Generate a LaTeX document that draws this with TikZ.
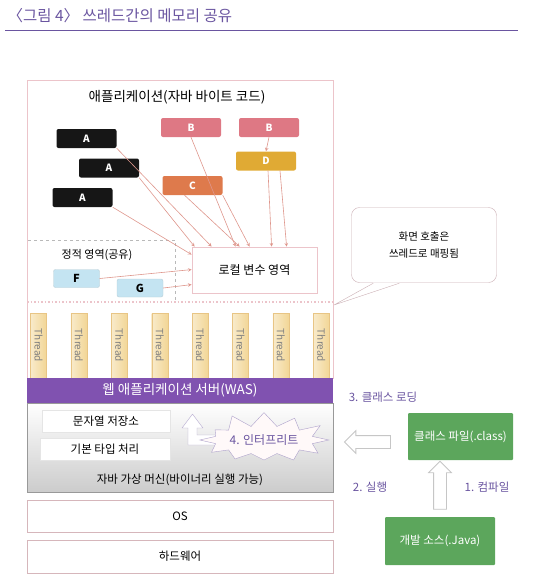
\documentclass[tikz,border=0pt]{standalone}
\usepackage{fontspec}
\setmainfont{Noto Sans CJK KR}
\usepackage{xcolor}
\usepackage{tikz}
\usetikzlibrary{shapes.geometric, shapes.symbols, shapes.arrows, arrows, positioning, calc}
\definecolor{titlepurple}{RGB}{106, 85, 160}
\definecolor{waspurple}{RGB}{128, 82, 176}
\definecolor{edgepink}{RGB}{236, 196, 202}
\definecolor{linkpink}{RGB}{222, 150, 140}
\definecolor{codeblack}{RGB}{22, 22, 22}
\definecolor{codepink}{RGB}{222, 120, 132}
\definecolor{codeorange}{RGB}{222, 122, 76}
\definecolor{codegold}{RGB}{224, 170, 52}
\definecolor{staticblue}{RGB}{196, 228, 242}
\definecolor{threadyel}{RGB}{242, 214, 150}
\definecolor{filegreen}{RGB}{92, 166, 92}

\begin{document}
\begin{tikzpicture}[x=1pt, y=-1pt,
    codebox/.style={rectangle, rounded corners=2pt, fill=#1, text=white, minimum width=60pt, minimum height=19pt, inner sep=0pt, font=\fontsize{10}{11}\selectfont\bfseries},
    staticbox/.style={rectangle, rounded corners=2pt, draw=cyan!30!gray!50, fill=staticblue, minimum width=46pt, minimum height=18pt, inner sep=0pt, font=\fontsize{11}{12}\selectfont\bfseries},
    layer/.style={rectangle, draw=edgepink!80!gray, line width=0.8pt, fill=white, minimum width=306pt, inner sep=0pt, font=\fontsize{11.5}{13}\selectfont},
    jvmbox/.style={rectangle, draw=white!80!gray, fill=white, minimum height=22pt, inner sep=0pt, font=\fontsize{11.5}{13}\selectfont},
    threadbox/.style={rectangle, draw=threadyel!80!brown, left color=threadyel!50, right color=threadyel, rotate=-90, minimum width=65pt, minimum height=16pt, inner sep=0pt, text=gray, font=\fontsize{10}{11}\selectfont},
    filebox/.style={rectangle, rounded corners=1pt, fill=filegreen, text=white, inner sep=0pt, font=\fontsize{11.5}{13}\selectfont},
    steplabel/.style={text=titlepurple, font=\fontsize{11.5}{13}\selectfont},
    hollow/.style={single arrow, draw=gray!45, fill=white, line width=0.8pt, inner sep=6pt, single arrow head extend=5pt, single arrow head indent=0pt},
    flow/.style={->, >=stealth, draw=linkpink, line width=0.6pt}
]
    \useasboundingbox (0,0) rectangle (533,584);

    % Title
    \node[anchor=west, text=titlepurple, font=\fontsize{15.5}{17}\selectfont] (title) at (4,16) {〈그림 4〉 쓰레드간의 메모리 공유};
    \draw[titlepurple, line width=1pt] (5,30) -- (518,30);

    % Application area
    \draw[edgepink, line width=0.8pt] (27,80) rectangle (333,378);
    \node[font=\fontsize{13.5}{15}\selectfont] (apptitle) at (177,97) {애플리케이션(자바 바이트 코드)};
    \draw[edgepink, dotted, line width=1.5pt] (27,302) -- (333,302);
    \draw[gray!55, dashed] (28,240) -- (175,240) -- (175,300);
    \node[font=\fontsize{11}{12}\selectfont] (statictitle) at (97,255) {정적 영역(공유)};

    \node[rectangle, draw=edgepink, line width=0.8pt, fill=white, minimum width=125pt, minimum height=46pt, font=\fontsize{12}{13}\selectfont] (local) at (254.5,270) {로컬 변수 영역};

    \node[codebox=codeblack] (a1) at (86.5,138.5) {A};
    \node[codebox=codeblack] (a2) at (109,168) {A};
    \node[codebox=codeblack] (a3) at (82.5,197.5) {A};
    \node[codebox=codepink] (b1) at (191,127.5) {B};
    \node[codebox=codepink] (b2) at (269,127.5) {B};
    \node[codebox=codeorange] (c) at (192.5,185.5) {C};
    \node[codebox=codegold] (d) at (266,161) {D};
    \node[staticbox] (f) at (76.5,278.5) {F};
    \node[staticbox] (g) at (140,288) {G};

    \draw[flow] (a1.south east) -- ([xshift=20]local.north west);
    \draw[flow] (a2.south east) -- ([xshift=3]local.north west);
    \draw[flow] (a3.south east) -- ([yshift=-8]local.north west);
    \draw[flow] (b1.south) -- ([xshift=44]local.north west);
    \draw[flow] ([xshift=-8]c.south) -- ([xshift=48]local.north west);
    \draw[flow] (c.south east) -- ([xshift=58]local.north west);
    \draw[flow] (b2.south) -- (d.north);
    \draw[flow] ([xshift=2]d.south) -- ([xshift=80]local.north west);
    \draw[flow] ([xshift=14]d.south) -- ([xshift=95]local.north west);
    \draw[flow] (f.east) -- ([yshift=-23]local.north west);
    \draw[flow] (g.east) -- ([yshift=-38]local.north west);

    % Speech bubble
    \node[rectangle, rounded corners=8pt, draw=edgepink!70!gray, fill=white, minimum width=145pt, minimum height=75pt, align=center, font=\fontsize{10.5}{17}\selectfont] (bubble) at (424,245) {화면 호출은\\쓰레드로 매핑됨};
    \coordinate (tip) at (334,305);
    \fill[white] ([xshift=22]bubble.south west) -- (tip) -- ([xshift=48]bubble.south west) -- cycle;
    \draw[edgepink!70!gray] ([xshift=22,yshift=-0.5]bubble.south west) -- (tip) -- ([xshift=48,yshift=-0.5]bubble.south west);

    % Threads
    \foreach \i in {1,...,8}
        \node[threadbox] (thr\i) at ({38.5+40.4*(\i-1)},345.5) {Thread};

    % WAS and JVM
    \node[rectangle, fill=waspurple, text=white, minimum width=306pt, minimum height=25pt, inner sep=0pt, font=\fontsize{13.5}{15}\selectfont] (was) at (180,390.5) {웹 애플리케이션 서버(WAS)};
    \node[rectangle, draw=gray!80, line width=1pt, top color=white, bottom color=gray!40, minimum width=306pt, minimum height=89pt, inner sep=0pt] (jvm) at (180,447.5) {};
    \node[font=\fontsize{11.5}{13}\selectfont] (jvmtitle) at (180,480) {자바 가상 머신(바이너리 실행 가능)};
    \node[jvmbox, minimum width=128pt] (strpool) at (106,421) {문자열 저장소};
    \node[jvmbox, minimum width=130pt] (prim) at (105,449) {기본 타입 처리};

    \draw[draw=titlepurple!50, fill=white, line join=round] (188,428) -- (182,428) -- (192.5,414) -- (203,428) -- (197,428) -- (197,435) -- (226,435) -- (226,445) -- (188,445) -- cycle;
    \node[starburst, starburst points=12, starburst point height=16pt, random starburst=4, draw=titlepurple!55, fill=white!90!pink, minimum width=132pt, minimum height=60pt, inner sep=1pt, text=titlepurple, font=\fontsize{12}{13}\selectfont] (interp) at (264,440) {4. 인터프리트};

    % OS and hardware
    \node[layer, minimum height=32pt] (os) at (180,516) {OS};
    \node[layer, minimum height=33pt] (hw) at (180,556.5) {하드웨어};

    % Build and load
    \node[filebox, minimum width=105pt, minimum height=47pt] (cls) at (460.5,436.5) {클래스 파일(.class)};
    \node[filebox, minimum width=110pt, minimum height=48pt] (src) at (440,541) {개발 소스(.Java)};
    \node[hollow, minimum height=46pt, shape border rotate=180] (loadarrow) at ($(jvm.east)!0.5!(cls.west)$) {};
    \node[hollow, minimum height=48pt, shape border rotate=90] (compilearrow) at ($(src.north)!0.5!(src.north |- cls.south)$) {};
    \node[steplabel] (load) at (383,397) {3. 클래스 로딩};
    \node[steplabel] (run) at (370,487) {2. 실행};
    \node[steplabel] (compile) at (487,487) {1. 컴파일};
\end{tikzpicture}
\end{document}
